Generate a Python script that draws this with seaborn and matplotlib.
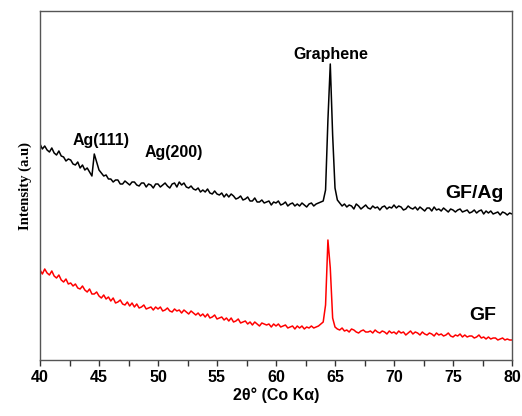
import numpy as np
import pandas as pd
import matplotlib
matplotlib.use('Agg')
import matplotlib.pyplot as plt
import seaborn as sns

# scan grid, 2theta in degrees (0.2 deg steps)
two_theta = np.round(np.arange(40.0, 80.01, 0.2), 1)

# GF/Ag pattern (arbitrary units)
gf_ag = [
    216, 211, 214, 210, 208, 212, 207, 205, 209, 204,
    203, 199, 201, 200, 196, 195, 198, 192, 195, 190,
    192, 188, 184, 206, 198, 190, 187, 184, 185, 181,
    181, 178, 180, 180, 176, 176, 179, 177, 175, 178,
    178, 175, 174, 177, 177, 173, 176, 175, 172, 176,
    176, 173, 175, 177, 174, 172, 176, 177, 173, 178,
    175, 177, 173, 172, 174, 171, 170, 172, 168, 170,
    168, 171, 167, 166, 169, 166, 165, 167, 163, 166,
    163, 166, 164, 161, 162, 164, 160, 161, 163, 159,
    159, 162, 158, 158, 160, 157, 158, 159, 155, 158,
    157, 159, 155, 156, 158, 154, 156, 157, 154, 156,
    154, 157, 155, 153, 156, 157, 154, 156, 157, 158,
    159, 170, 240, 296, 225, 172, 160, 157, 154, 156,
    153, 155, 154, 151, 156, 154, 151, 153, 155, 152,
    151, 154, 152, 153, 150, 153, 154, 151, 153, 152,
    155, 152, 154, 153, 150, 151, 154, 152, 151, 153,
    150, 153, 151, 149, 152, 152, 149, 153, 150, 151,
    149, 152, 150, 148, 151, 150, 148, 150, 151, 148,
    149, 150, 147, 148, 150, 147, 149, 150, 146, 149,
    147, 149, 146, 147, 148, 145, 148, 147, 145, 147,
    146,
]

# GF pattern
gf = [
    90, 86, 91, 87, 85, 89, 84, 82, 85, 80,
    78, 81, 76, 77, 74, 76, 72, 71, 74, 70,
    68, 71, 66, 66, 68, 64, 62, 65, 61, 63,
    59, 62, 57, 58, 60, 56, 55, 58, 54, 57,
    53, 56, 52, 53, 55, 51, 52, 53, 50, 53,
    51, 53, 49, 50, 52, 49, 48, 51, 49, 50,
    47, 50, 48, 46, 49, 47, 45, 47, 44, 46,
    43, 46, 42, 43, 45, 41, 42, 43, 40, 42,
    39, 42, 38, 39, 41, 37, 38, 39, 36, 38,
    35, 38, 36, 34, 37, 36, 35, 36, 33, 36,
    34, 36, 33, 34, 35, 32, 33, 34, 31, 34,
    32, 34, 31, 33, 32, 34, 32, 33, 34, 36,
    38, 55, 120, 92, 42, 33, 31, 30, 32, 29,
    30, 28, 31, 30, 28, 27, 29, 30, 28, 28,
    29, 27, 30, 28, 27, 29, 28, 26, 29, 27,
    28, 26, 29, 27, 28, 25, 27, 29, 26, 28,
    27, 25, 28, 26, 25, 27, 26, 24, 27, 25,
    26, 24, 25, 27, 24, 23, 25, 24, 26, 23,
    25, 23, 24, 24, 22, 23, 25, 22, 23, 21,
    23, 21, 22, 22, 20, 21, 22, 20, 21, 20,
    20,
]

peak_labels = ['Ag(111)', 'Ag(200)', 'Graphene']
peak_pos = [45.2, 51.3, 64.65]
peak_y = [219, 207, 306]

sample_names = ['GF/Ag', 'GF']
sample_colors = ['black', 'red']

df = pd.DataFrame({
    'two_theta': np.concatenate([two_theta, two_theta]),
    'intensity': np.concatenate([gf_ag, gf]),
    'sample': ['GF/Ag'] * len(two_theta) + ['GF'] * len(two_theta),
})

sns.set_style('ticks')
plt.rcParams['font.family'] = ['Liberation Sans', 'DejaVu Sans']
plt.rcParams['text.color'] = 'black'

fig = plt.figure(figsize=(5.22, 4.16), dpi=100)
ax = fig.add_axes([40 / 522, 1 - 360 / 416, 472 / 522, 349 / 416])

sns.lineplot(data=df, x='two_theta', y='intensity', hue='sample',
             palette=dict(zip(sample_names, sample_colors)), linewidth=1.1,
             legend=False, ax=ax, estimator=None)

ax.set_xlim(40, 80)
ax.set_ylim(0, 349)
ax.set_yticks([])
ax.set_xticks(range(40, 81, 5))
ax.set_xticks(np.arange(42.5, 80, 5), minor=True)
ax.tick_params(axis='x', which='both', direction='out', length=4, width=1, colors='#333333')
ax.tick_params(axis='x', which='major', labelsize=11.5, labelcolor='black', pad=3)
for lbl in ax.get_xticklabels():
    lbl.set_fontweight('bold')
for s in ax.spines.values():
    s.set_visible(True)
    s.set_color('#555555')
    s.set_linewidth(1.0)

ax.set_xlabel('2θ° (Co Kα)', fontsize=11.5, fontweight='bold', labelpad=2, color='black')
ax.set_ylabel('Intensity (a.u)', fontsize=10.5, fontweight='bold',
              family='Liberation Serif', labelpad=6, color='black')

for lab, xp, yp in zip(peak_labels, peak_pos, peak_y):
    ax.text(xp, yp, lab, ha='center', va='center', fontsize=11.5, fontweight='bold')

ax.text(76.8, 167, 'GF/Ag', ha='center', va='center', fontsize=14, fontweight='bold')
ax.text(77.5, 45, 'GF', ha='center', va='center', fontsize=14, fontweight='bold')

fig.savefig('out.png', dpi=100)
